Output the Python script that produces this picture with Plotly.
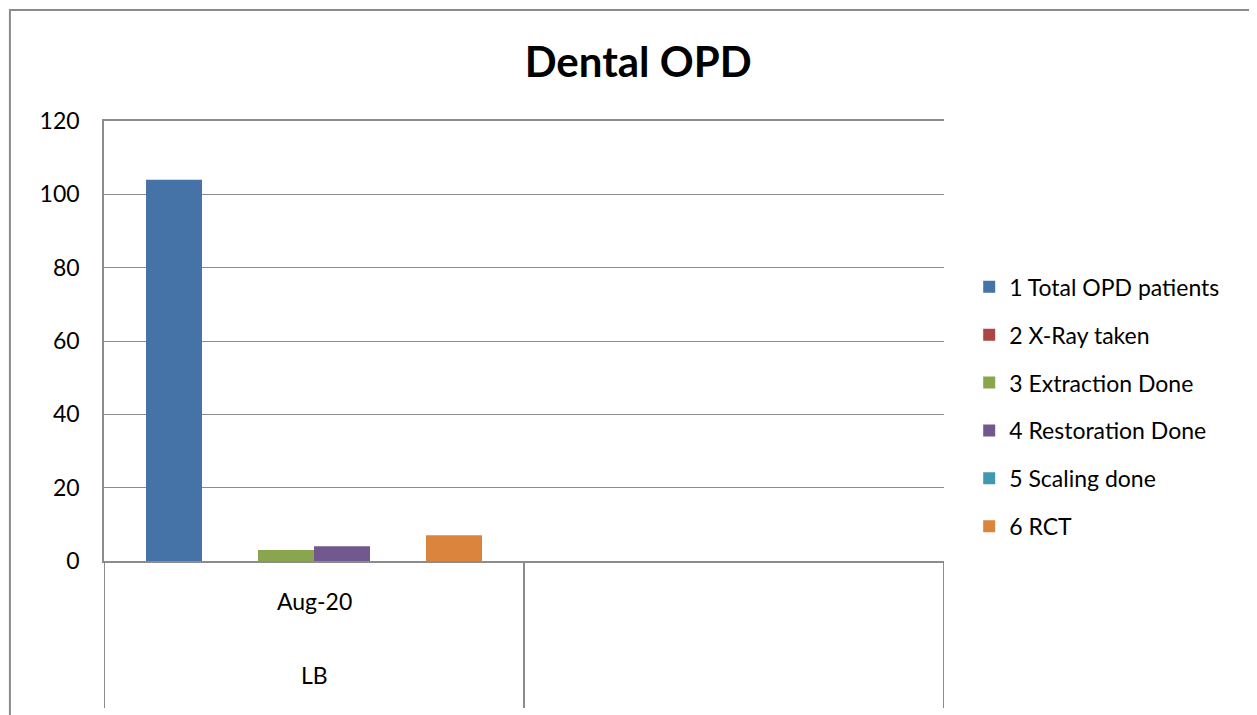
import plotly.graph_objects as go

months = ["Aug-20"]
groups = ["LB"]
series = ["1 Total OPD patients", "2 X-Ray taken", "3 Extraction Done",
          "4 Restoration Done", "5 Scaling done", "6 RCT"]
values = [104, 0, 3, 4, 0, 7]
colors = ["#4572A7", "#AA4643", "#89A54E", "#71588F", "#4198AF", "#DB843D"]
y_ticks = [0, 20, 40, 60, 80, 100, 120]

FONT = "Lato"
GRID = "#8c8c8c"

fig = go.Figure()
for i, (name, v) in enumerate(zip(series, values)):
    fig.add_trace(go.Bar(x=[0], y=[v], name=name, marker_color=colors[i], marker_line_width=0,
                         width=0.8 / 6, offset=-0.4 + i * 0.8 / 6,
                         legendgroup=str(i)))

shapes = []
# category dividers below the axis
for xv in [-0.5, 0.5, 1.5]:
    shapes.append(dict(type="line", xref="x", yref="paper", x0=xv, x1=xv, y0=0, y1=-0.334,
                       line=dict(color=GRID, width=2)))
# outer chart frame
shapes.append(dict(type="rect", xref="paper", yref="paper", x0=-0.112, x1=1.371, y0=-0.4, y1=1.252,
                   line=dict(color="#8a8a8a", width=2), fillcolor="rgba(0,0,0,0)", layer="below"))

annotations = [
    dict(text=months[0], x=0, xref="x", y=-0.127, yref="paper", showarrow=False,
         font=dict(family=FONT, size=23, color="#000")),
    dict(text=groups[0], x=0, xref="x", y=-0.296, yref="paper", showarrow=False,
         font=dict(family=FONT, size=23, color="#000")),
]

# page body has an 8px margin, so the figure is 8px smaller than the window
fig.update_layout(
    width=1249, height=707,
    margin=dict(l=96, r=313, t=113, b=154),
    paper_bgcolor="white", plot_bgcolor="white",
    font=dict(family=FONT, size=23, color="#000"),
    title=dict(text="<b>Dental OPD</b>", x=0.5045, xanchor="center", y=0.9236, yanchor="middle",
               font=dict(family=FONT, size=42, color="#000")),
    barmode="group", bargap=0.2, bargroupgap=0,
    showlegend=True,
    legend=dict(x=1.03, xanchor="left", y=0.672, yanchor="top", tracegroupgap=15,
                font=dict(family=FONT, size=23, color="#000"), bgcolor="rgba(0,0,0,0)"),
    shapes=shapes, annotations=annotations,
)
fig.update_xaxes(range=[-0.5, 1.5], showticklabels=False, showgrid=False, zeroline=False,
                 showline=True, linecolor=GRID, linewidth=2, ticks="", mirror=True)
fig.update_yaxes(range=[0, 120], tickvals=y_ticks, showgrid=True, gridcolor=GRID, gridwidth=1.3,
                 zeroline=False, showline=True, linecolor=GRID, linewidth=1.5, ticks="",
                 ticklabelstandoff=18, tickfont=dict(family=FONT, size=23, color="#000"))

fig.write_html("out.html")
